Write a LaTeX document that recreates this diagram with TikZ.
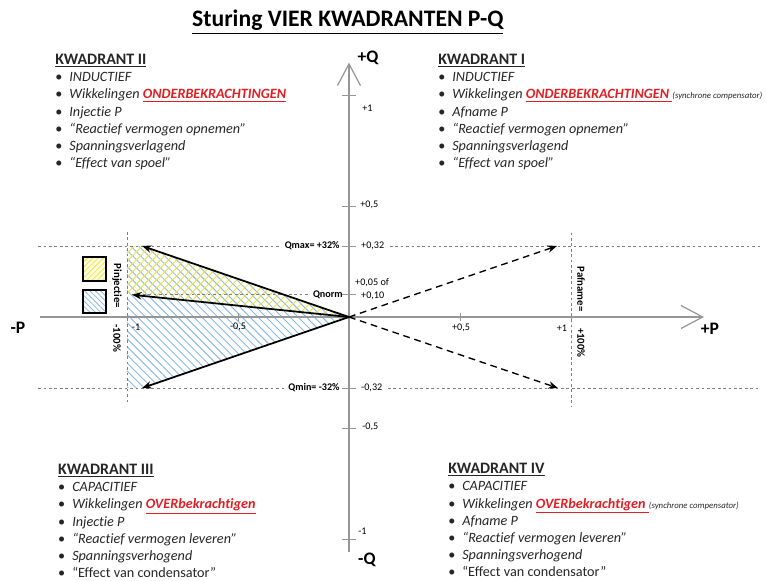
\documentclass[tikz,border=0pt]{standalone}
\usepackage{fontspec}
\setmainfont{Carlito}[Ligatures={TeX,NoCommon}]
\usetikzlibrary{arrows.meta,patterns.meta,positioning}

\definecolor{kwred}{RGB}{224,30,36}
\definecolor{hatchblue}{RGB}{140,186,230}
\definecolor{hatchyellow}{RGB}{240,228,70}
\definecolor{axisgray}{RGB}{150,150,150}
\definecolor{txtgray}{RGB}{38,38,38}

\newcommand{\blt}{\makebox[10.4pt][l]{\upshape\textbullet}}
\newcommand{\kwhead}[1]{{\fontsize{11.8}{13}\selectfont\bfseries\underline{#1}}}
\newcommand{\kwred}[1]{\textcolor{kwred}{\bfseries\underline{#1}}}
\newcommand{\syncomp}{{\fontsize{6.5}{7}\selectfont(synchrone compensator)}}

\tikzset{
  axisline/.style={draw=axisgray,line width=0.9pt},
  axistick/.style={draw=axisgray,line width=0.6pt},
  guide/.style={draw=gray,line width=0.5pt,dash pattern=on 2pt off 2pt},
  qarrow/.style={->,line width=1.3pt},
  parrow/.style={->,line width=1pt,dash pattern=on 5pt off 3.5pt},
  ticklbl/.style={font=\fontsize{7.5}{8}\selectfont,inner sep=0pt},
  qlbl/.style={font=\fontsize{7.5}{8}\selectfont\bfseries,inner sep=0pt},
  axlbl/.style={font=\fontsize{13}{14}\selectfont\bfseries,inner sep=0pt},
  vlbl/.style={font=\fontsize{8}{9}\selectfont\bfseries,inner sep=0pt,rotate=-90},
  kwlist/.style={align=left,inner sep=0pt,anchor=north west,text=txtgray,font=\fontsize{10.5}{12.7}\selectfont},
  legendbox/.style={draw,line width=1.6pt},
}

\begin{document}
\begin{tikzpicture}[x=5.772cm,y=5.772cm,>={Stealth[length=7pt,width=5.5pt]}]
\useasboundingbox (-1.572,-1.189) rectangle (1.883,1.428);

% titel
\node[font=\fontsize{17.5}{20}\selectfont\bfseries] (title) at (-0.005,1.329) {\underline{Sturing VIER KWADRANTEN P-Q}};

% punten
\coordinate (O) at (0,0);
\coordinate (pl) at (-1.392,0);
\coordinate (pr) at (1.599,0);
\coordinate (qt) at (0,1.146);
\coordinate (qb) at (0,-1.06);
\coordinate (tmax) at (-0.932,0.32);
\coordinate (tnorm) at (-0.977,0.1);
\coordinate (tmin) at (-0.932,-0.32);
\coordinate (tup) at (0.937,0.32);
\coordinate (tdn) at (0.941,-0.32);
\coordinate (gl1) at (-1.40,0.32);
\coordinate (gr1) at (1.851,0.32);
\coordinate (gl2) at (-1.40,-0.32);
\coordinate (gr2) at (1.851,-0.32);
\coordinate (vl1) at (-1,0.383);
\coordinate (vl2) at (-1,-0.383);
\coordinate (vr1) at (1,0.38);
\coordinate (vr2) at (1,-0.40);

% arcering
\fill[pattern={Lines[angle=-45,distance=4.2pt,line width=0.7pt]},pattern color=hatchblue]
  (vl1 |- tmax) -- (tmax) -- (O) -- (tmin) -- (vl1 |- tmin) -- cycle;
\fill[pattern={Lines[angle=45,distance=4.2pt,line width=0.7pt]},pattern color=hatchyellow]
  (vl1 |- tmax) -- (tmax) -- (O) -- (tnorm) -- (vl1 |- tnorm) -- cycle;

% assen
\draw[axisline,-{Straight Barb[length=16pt,width=17pt]}] (pl) -- (pr);
\draw[axisline,-{Straight Barb[length=16pt,width=17pt]}] (qb) -- (qt);
\foreach \q in {1,0.5,0.32,0.1,-0.32,-0.5,-1}
  \draw[axistick] (-0.03,\q) -- (0.03,\q);
\foreach \p in {-1,-0.5,0.5,1}
  \draw[axistick] (\p,-0.018) -- (\p,0.018);

\node[axlbl] (Pp) at (1.626,-0.054) {+P};
\node[axlbl] (Pm) at (-1.491,-0.05) {-P};
\node[axlbl] (Qp) at (0.086,1.167) {+Q};
\node[axlbl] (Qm) at (0.081,-1.095) {-Q};

% schaalwaarden
\node[ticklbl,anchor=west] (l1) at (0.059,0.941) {+1};
\node[ticklbl,anchor=west] (l05) at (0.05,0.505) {+0,5};
\node[ticklbl,anchor=west] (l032) at (0.054,0.32) {+0,32};
\node[ticklbl,anchor=west] (l005) at (0.027,0.153) {+0,05 of};
\node[ticklbl,anchor=west] (l010) at (0.054,0.095) {+0,10};
\node[ticklbl,anchor=west] (lm032) at (0.054,-0.32) {-0,32};
\node[ticklbl,anchor=west] (lm05) at (0.059,-0.495) {-0,5};
\node[ticklbl,anchor=west] (lm1) at (0.041,-0.964) {-1};
\node[ticklbl] (pm1) at (-0.959,-0.045) {-1};
\node[ticklbl] (pm05) at (-0.5,-0.045) {-0,5};
\node[ticklbl] (pp05) at (0.505,-0.05) {+0,5};
\node[ticklbl] (pp1) at (0.959,-0.05) {+1};

\node[qlbl,anchor=east] (Qmax) at (-0.041,0.32) {Qmax= +32\%};
\node[qlbl,anchor=east] (Qnorm) at (-0.027,0.1) {Qnorm};
\node[qlbl,anchor=east] (Qmin) at (-0.041,-0.32) {Qmin= -32\%};

% hulplijnen
\draw[guide,shorten >=3pt] (gl1) -- (Qmax);
\draw[guide,shorten <=4pt] (l032) -- (gr1);
\draw[guide,shorten >=3pt] (gl2) -- (Qmin);
\draw[guide,shorten <=4pt] (lm032) -- (gr2);
\draw[guide,shorten >=3pt] (tnorm) -- (Qnorm);
\draw[guide] (vl1) -- (vl2);
\draw[guide] (vr1) -- (vr2);

% vectoren
\draw[qarrow] (O) -- (tmax);
\draw[qarrow] (O) -- (tnorm);
\draw[qarrow] (O) -- (tmin);
\draw[parrow] (O) -- (tup);
\draw[parrow] (O) -- (tdn);

\node[vlbl] (pinj) at (-1.045,0.14) {Pinjectie=};
\node[vlbl] (pinjpct) at (-1.045,-0.095) {-100\%};
\node[vlbl] (pafn) at (1.045,0.126) {Pafname=};
\node[vlbl] (pafnpct) at (1.045,-0.117) {+100\%};

% legende
\path[legendbox,preaction={fill=yellow!12},pattern={Lines[angle=45,distance=2.8pt,line width=0.6pt]},pattern color=hatchyellow]
  (-1.198,0.162) rectangle (-1.095,0.27);
\path[legendbox,pattern={Lines[angle=-45,distance=2.8pt,line width=0.6pt]},pattern color=hatchblue]
  (-1.198,0.018) rectangle (-1.095,0.122);

% kwadranten
\node[kwlist] (kw2) at (-1.324,1.185) {\kwhead{KWADRANT II}\\
  \blt\textit{INDUCTIEF}\\
  \blt\textit{Wikkelingen \kwred{ONDERBEKRACHTINGEN}}\\
  \blt\textit{Injectie P}\\
  \blt\textit{``Reactief vermogen opnemen''}\\
  \blt\textit{Spanningsverlagend}\\
  \blt\textit{``Effect van spoel''}};
\node[kwlist] (kw1) at (0.401,1.185) {\kwhead{KWADRANT I}\\
  \blt\textit{INDUCTIEF}\\
  \blt\textit{Wikkelingen \kwred{ONDERBEKRACHTINGEN\ }\syncomp}\\
  \blt\textit{Afname P}\\
  \blt\textit{``Reactief vermogen opnemen''}\\
  \blt\textit{Spanningsverlagend}\\
  \blt\textit{``Effect van spoel''}};
\node[kwlist] (kw3) at (-1.311,-0.662) {\kwhead{KWADRANT III}\\
  \blt\textit{CAPACITIEF}\\
  \blt\textit{Wikkelingen \kwred{OVERbekrachtigen}}\\
  \blt\textit{Injectie P}\\
  \blt\textit{``Reactief vermogen leveren''}\\
  \blt\textit{Spanningsverhogend}\\
  \blt``Effect van condensator''};
\node[kwlist] (kw4) at (0.446,-0.658) {\kwhead{KWADRANT IV}\\
  \blt\textit{CAPACITIEF}\\
  \blt\textit{Wikkelingen \kwred{OVERbekrachtigen\ }\syncomp}\\
  \blt\textit{Afname P}\\
  \blt\textit{``Reactief vermogen leveren''}\\
  \blt\textit{Spanningsverhogend}\\
  \blt``Effect van condensator''};
\end{tikzpicture}
\end{document}
